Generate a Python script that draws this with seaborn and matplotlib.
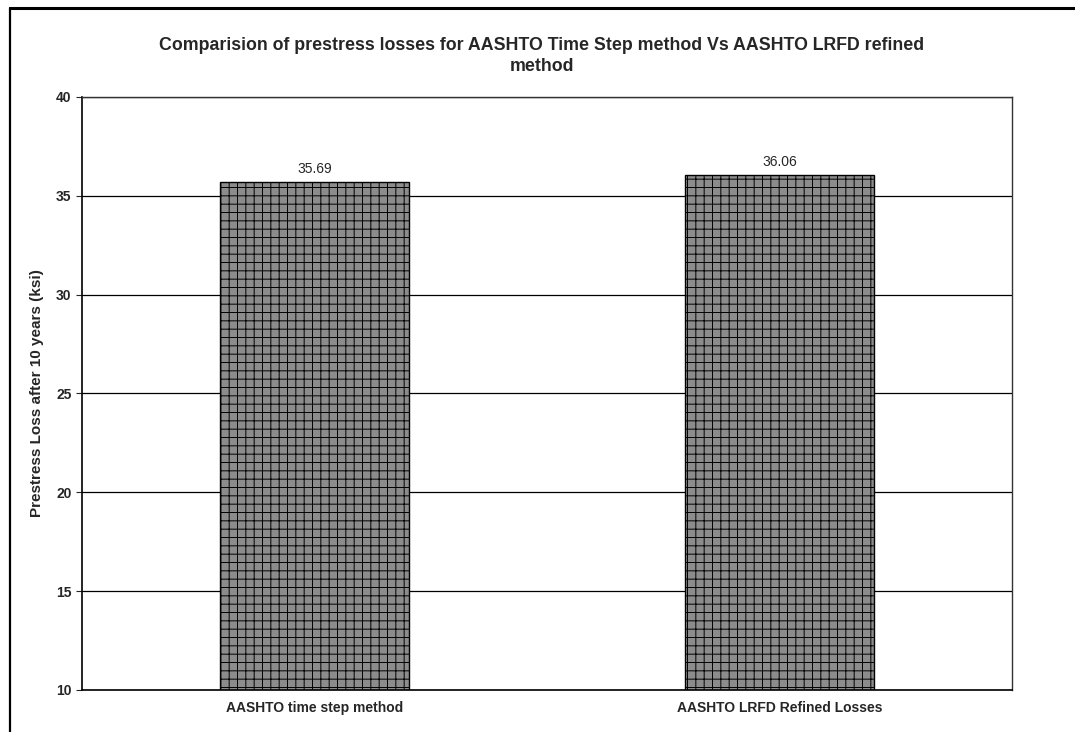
import pandas as pd
import matplotlib.pyplot as plt
import seaborn as sns
from matplotlib.lines import Line2D

# Data
methods = ["AASHTO time step method", "AASHTO LRFD Refined Losses"]
losses = [35.69, 36.06]
labels = ["35.69", "36.06"]

df = pd.DataFrame({"method": methods, "loss": losses})

sns.set_style("white")
plt.rcParams['font.family'] = ['Liberation Sans', 'DejaVu Sans']
plt.rcParams['hatch.color'] = '#4a4a4a'
plt.rcParams['hatch.linewidth'] = 0.7

fig = plt.figure(figsize=(10.75, 7.32), dpi=100)
ax = fig.add_axes([0.0763, 0.0574, 0.8651, 0.8101])

sns.barplot(x="method", y="loss", data=df, ax=ax, color="#8c8c8c",
            width=0.405, edgecolor="black", linewidth=1.0, saturation=1)
for p in ax.patches:
    p.set_hatch("++")

# value labels
for i, v in enumerate(losses):
    ax.text(i, v + 0.3, labels[i], ha="center", va="bottom", fontsize=10)

ax.set_ylim(10, 40)
ax.set_yticks(range(10, 41, 5))
ax.set_xlim(-0.5, 1.5)
ax.yaxis.grid(True, color="black", linewidth=0.9)
ax.set_axisbelow(True)
ax.tick_params(axis="y", length=4, labelsize=10, left=True, direction="out")
ax.tick_params(axis="x", length=0, labelsize=10, pad=8)
for t in ax.get_yticklabels() + ax.get_xticklabels():
    t.set_fontweight("bold")

for s in ["top", "right"]:
    ax.spines[s].set_linestyle((0, (2, 1)))
    ax.spines[s].set_linewidth(1.0)
    ax.spines[s].set_color("#333333")
ax.spines["left"].set_color("black")
ax.spines["bottom"].set_color("black")
ax.spines["left"].set_linewidth(1.2)
ax.spines["bottom"].set_linewidth(1.2)

ax.set_xlabel("")
ax.set_ylabel("Prestress Loss after 10 years (ksi)", fontsize=11, fontweight="bold", labelpad=9)

fig.text(0.504, 0.923,
         "Comparision of prestress losses for AASHTO Time Step method Vs AASHTO LRFD refined\nmethod",
         ha="center", va="center", fontsize=12.8, fontweight="bold", linespacing=1.3)

# outer frame lines
fig.add_artist(Line2D([10 / 1075, 1.0], [1 - 8 / 732, 1 - 8 / 732], color="black", linewidth=2.2))
fig.add_artist(Line2D([10 / 1075, 10 / 1075], [0, 1 - 8 / 732], color="black", linewidth=1.6))

fig.savefig("out.png", dpi=100)
